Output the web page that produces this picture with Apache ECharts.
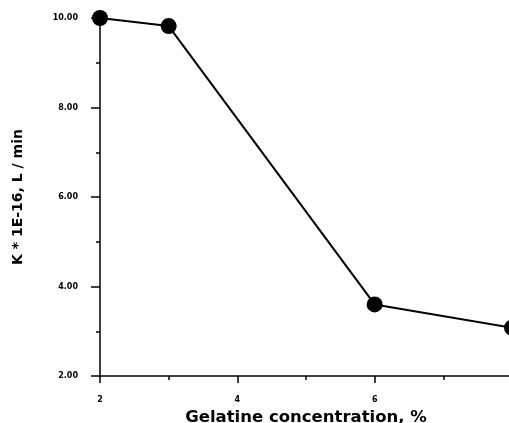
<!DOCTYPE html>
<html>
<head>
<meta charset="utf-8">
<script src="https://cdn.jsdelivr.net/npm/echarts@6/dist/echarts.min.js"></script>
<style>
  html, body { margin: 0; padding: 0; background: #fff; }
  #chart { width: 509px; height: 423px; }
</style>
</head>
<body>
<div id="chart"></div>
<script>
// gelatine concentration (%) vs K * 1E-16
var concentration = [2, 3, 6, 8];
var kValues = [10.0, 9.82, 3.6, 3.08];
var xTicks = [2, 4, 6];
var yTicks = ['2.00', '4.00', '6.00', '8.00', '10.00'];

var points = concentration.map(function (c, i) { return [c, kValues[i]]; });

var chart = echarts.init(document.getElementById('chart'));

var labelFont = {
    color: '#000',
    fontFamily: 'DejaVu Sans',
    fontWeight: 'bold',
    fontSize: 8
};

chart.setOption({
    animation: false,
    backgroundColor: '#fff',
    grid: { left: 100, top: 18, right: -3, bottom: 47, outerBoundsMode: 'none', containLabel: false },
    xAxis: {
        type: 'value',
        min: 2,
        max: 8,
        interval: 2,
        name: 'Gelatine concentration, %',
        nameLocation: 'middle',
        nameGap: 23,
        nameTextStyle: {
            color: '#000',
            fontFamily: 'DejaVu Sans',
            fontWeight: 'bold',
            fontSize: 16.5
        },
        axisLine: { lineStyle: { color: '#000', width: 1.5 } },
        axisTick: { length: 7, lineStyle: { color: '#000', width: 1.5 } },
        minorTick: { show: true, splitNumber: 2, length: 4, lineStyle: { color: '#000', width: 1.5 } },
        splitLine: { show: false },
        axisLabel: Object.assign({
            margin: 20,
            formatter: function (v) { return xTicks.indexOf(v) >= 0 ? String(v) : ''; }
        }, labelFont)
    },
    yAxis: {
        type: 'value',
        min: 2,
        max: 10,
        interval: 2,
        name: 'K * 1E-16, L / min',
        nameLocation: 'middle',
        nameGap: 75,
        nameTextStyle: {
            color: '#000',
            fontFamily: 'DejaVu Sans',
            fontWeight: 'bold',
            fontSize: 14
        },
        axisLine: { show: true, lineStyle: { color: '#000', width: 1.5 } },
        axisTick: { show: true, length: 9, lineStyle: { color: '#000', width: 1.5 } },
        minorTick: { show: true, splitNumber: 2, length: 4, lineStyle: { color: '#000', width: 1.5 } },
        splitLine: { show: false },
        axisLabel: Object.assign({
            margin: 22,
            formatter: function (v) { return yTicks[(v - 2) / 2]; }
        }, labelFont)
    },
    series: [{
        type: 'line',
        data: points,
        symbol: 'circle',
        symbolSize: 16,
        lineStyle: { color: '#000', width: 2 },
        itemStyle: { color: '#000' },
        clip: false
    }]
});
</script>
</body>
</html>
